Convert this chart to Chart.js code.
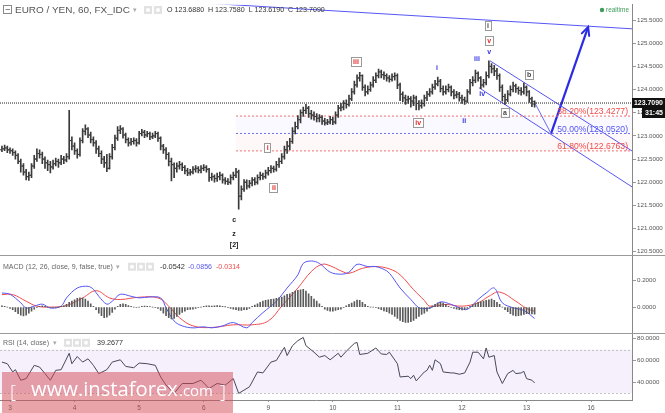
<!DOCTYPE html>
<html>
<head>
<meta charset="utf-8">
<script src="https://cdn.jsdelivr.net/npm/chart.js@4/dist/chart.umd.min.js"></script>
<style>
  html, body { margin: 0; padding: 0; background: #fff; }
  #wrap { position: relative; width: 665px; height: 413px; }
</style>
</head>
<body>
<div id="wrap"><canvas id="chart" width="665" height="413"></canvas></div>
<script>
// ---- data (hourly EUR/JPY bars, index 0 = start of day "3") ----
const firstBar = -3;
const dayTicks = [0, 24, 48, 72, 96, 120, 144, 168, 192, 216];
const dayLabels = ['3', '4', '5', '6', '9', '10', '11', '12', '13', '16'];
const priceTicks = [120.5, 121, 121.5, 122, 122.5, 123, 123.5, 124, 124.5, 125, 125.5];

const opens = [
  122.70,122.72,122.74,122.70,122.68,122.64,122.58,122.45,122.35,122.22,
  122.12,122.15,122.35,122.50,122.62,122.60,122.50,122.42,122.38,122.33,
  122.40,122.45,122.42,122.50,122.48,122.55,122.90,122.78,122.68,122.60,
  122.90,123.10,123.15,123.02,122.92,122.85,122.72,122.62,122.50,122.42,
  122.30,122.55,122.75,122.95,123.12,123.15,123.02,122.92,122.85,122.88,
  122.90,122.85,123.05,123.08,123.02,123.05,122.98,123.00,123.05,122.95,
  122.78,122.70,122.60,122.45,122.38,122.30,122.35,122.38,122.32,122.25,
  122.20,122.22,122.28,122.30,122.26,122.30,122.32,122.28,122.10,122.12,
  122.08,122.12,122.15,122.05,122.02,122.00,122.10,122.15,122.22,121.70,
  121.85,122.00,121.92,121.98,122.05,122.00,122.10,122.15,122.12,122.20,
  122.25,122.30,122.28,122.38,122.45,122.55,122.70,122.78,122.88,123.10,
  123.20,123.35,123.50,123.55,123.60,123.48,123.45,123.42,123.38,123.40,
  123.32,123.28,123.30,123.35,123.30,123.45,123.60,123.62,123.70,123.68,
  123.80,123.95,124.10,124.25,124.30,124.05,123.95,124.00,124.10,124.20,
  124.30,124.38,124.32,124.30,124.25,124.22,124.28,124.30,124.10,123.90,
  123.82,123.78,123.80,123.75,123.82,123.70,123.65,123.70,123.82,123.90,
  123.95,124.05,124.12,124.18,124.02,123.95,124.00,124.05,123.95,123.88,
  123.90,123.82,123.78,123.75,123.95,124.15,124.20,124.35,124.25,124.10,
  124.15,124.30,124.50,124.45,124.40,124.30,124.05,123.85,123.78,123.90,
  124.00,124.08,124.02,123.98,123.95,124.05,123.95,123.80,123.688
];
const highs = [
  122.78,122.80,122.78,122.74,122.72,122.68,122.62,122.50,122.40,122.28,
  122.22,122.40,122.58,122.72,122.70,122.65,122.55,122.48,122.45,122.48,
  122.52,122.50,122.58,122.56,122.62,123.55,122.98,122.85,122.72,122.96,
  123.16,123.24,123.18,123.08,122.98,122.90,122.78,122.68,122.56,122.60,
  122.62,122.82,123.02,123.20,123.22,123.18,123.06,122.96,122.95,122.96,
  122.94,123.10,123.14,123.12,123.10,123.08,123.06,123.10,123.08,122.98,
  122.82,122.75,122.64,122.52,122.42,122.42,122.45,122.42,122.36,122.30,
  122.28,122.34,122.36,122.34,122.36,122.38,122.36,122.30,122.20,122.16,
  122.20,122.22,122.18,122.10,122.08,122.16,122.22,122.30,122.26,121.92,
  122.06,122.05,122.04,122.10,122.10,122.16,122.22,122.20,122.26,122.32,
  122.36,122.35,122.45,122.52,122.62,122.78,122.88,122.95,123.18,123.30,
  123.44,123.56,123.62,123.68,123.64,123.55,123.52,123.48,123.46,123.44,
  123.38,123.36,123.42,123.40,123.52,123.66,123.70,123.76,123.78,123.88,
  124.02,124.18,124.32,124.37,124.32,124.10,124.08,124.16,124.28,124.36,
  124.44,124.42,124.38,124.34,124.30,124.34,124.36,124.34,124.14,123.95,
  123.88,123.86,123.85,123.88,123.86,123.76,123.78,123.88,123.96,124.02,
  124.12,124.20,124.27,124.22,124.08,124.08,124.12,124.08,124.00,123.96,
  123.94,123.88,123.84,124.00,124.22,124.28,124.42,124.38,124.28,124.22,
  124.38,124.62,124.56,124.52,124.46,124.34,124.10,123.90,123.98,124.08,
  124.16,124.12,124.06,124.04,124.14,124.08,123.98,123.84,123.758
];
const lows = [
  122.66,122.68,122.64,122.62,122.58,122.50,122.40,122.22,122.15,122.05,
  122.04,122.10,122.30,122.45,122.52,122.40,122.30,122.25,122.20,122.28,
  122.35,122.32,122.38,122.40,122.44,122.50,122.70,122.60,122.52,122.56,
  122.85,123.02,122.96,122.85,122.78,122.62,122.55,122.40,122.32,122.23,
  122.28,122.50,122.70,122.90,123.05,122.95,122.85,122.78,122.80,122.82,
  122.78,122.82,123.00,122.96,122.98,122.92,122.94,122.96,122.88,122.70,
  122.62,122.50,122.35,122.03,122.10,122.22,122.28,122.25,122.18,122.14,
  122.15,122.18,122.22,122.20,122.20,122.25,122.22,122.02,122.04,122.00,
  122.02,122.05,121.98,121.96,121.95,121.96,122.05,122.10,121.42,121.62,
  121.80,121.85,121.88,121.92,121.94,121.96,122.05,122.06,122.08,122.15,
  122.20,122.22,122.24,122.32,122.40,122.50,122.62,122.70,122.84,123.04,
  123.15,123.28,123.42,123.48,123.40,123.36,123.34,123.30,123.30,123.25,
  123.23,123.24,123.26,123.24,123.26,123.40,123.54,123.56,123.60,123.64,
  123.76,123.90,124.05,124.18,123.98,123.86,123.90,123.96,124.05,124.15,
  124.25,124.25,124.22,124.18,124.16,124.18,124.20,124.02,123.76,123.74,
  123.68,123.70,123.62,123.65,123.56,123.56,123.60,123.64,123.76,123.85,
  123.90,124.00,124.08,123.95,123.88,123.90,123.95,123.86,123.80,123.82,
  123.75,123.70,123.68,123.72,123.90,124.08,124.15,124.18,124.02,124.05,
  124.10,124.25,124.36,124.30,124.22,123.96,123.75,123.68,123.74,123.86,
  123.95,123.94,123.90,123.88,123.90,123.86,123.72,123.63,123.619
];
const closes = [
  122.72,122.74,122.70,122.68,122.64,122.58,122.45,122.35,122.22,122.12,
  122.15,122.35,122.50,122.62,122.60,122.50,122.42,122.38,122.33,122.40,
  122.45,122.42,122.50,122.48,122.55,122.90,122.78,122.68,122.60,122.90,
  123.10,123.15,123.02,122.92,122.85,122.72,122.62,122.50,122.42,122.30,
  122.55,122.75,122.95,123.12,123.15,123.02,122.92,122.85,122.88,122.90,
  122.85,123.05,123.08,123.02,123.05,122.98,123.00,123.05,122.95,122.78,
  122.70,122.60,122.45,122.38,122.30,122.35,122.38,122.32,122.25,122.20,
  122.22,122.28,122.30,122.26,122.30,122.32,122.28,122.10,122.12,122.08,
  122.12,122.15,122.05,122.02,122.00,122.10,122.15,122.22,121.70,121.85,
  122.00,121.92,121.98,122.05,122.00,122.10,122.15,122.12,122.20,122.25,
  122.30,122.28,122.38,122.45,122.55,122.70,122.78,122.88,123.10,123.20,
  123.35,123.50,123.55,123.60,123.48,123.45,123.42,123.38,123.40,123.32,
  123.28,123.30,123.35,123.30,123.45,123.60,123.62,123.70,123.68,123.80,
  123.95,124.10,124.25,124.30,124.05,123.95,124.00,124.10,124.20,124.30,
  124.38,124.32,124.30,124.25,124.22,124.28,124.30,124.10,123.90,123.82,
  123.78,123.80,123.75,123.82,123.70,123.65,123.70,123.82,123.90,123.95,
  124.05,124.12,124.18,124.02,123.95,124.00,124.05,123.95,123.88,123.90,
  123.82,123.78,123.75,123.95,124.15,124.20,124.35,124.25,124.10,124.15,
  124.30,124.50,124.45,124.40,124.30,124.05,123.85,123.78,123.90,124.00,
  124.08,124.02,123.98,123.95,124.05,123.95,123.80,123.74,123.709
];

// MACD (12, 26, close, 9)
const histogram = [
  0.010,0.005,0.000,-0.010,-0.020,-0.035,-0.050,-0.060,-0.067,-0.060,
  -0.045,-0.030,-0.015,-0.005,0.005,0.010,0.005,0.000,-0.005,-0.005,
  -0.005,0.000,0.005,0.010,0.020,0.035,0.045,0.055,0.065,0.070,
  0.068,0.060,0.045,0.025,0.005,-0.020,-0.045,-0.065,-0.079,-0.075,
  -0.060,-0.040,-0.015,0.005,0.020,0.025,0.020,0.012,0.005,0.000,
  -0.005,0.000,0.005,0.008,0.005,0.003,0.000,-0.005,-0.010,-0.025,
  -0.045,-0.065,-0.080,-0.089,-0.085,-0.070,-0.055,-0.040,-0.030,-0.020,
  -0.018,-0.015,-0.010,-0.005,0.000,0.005,0.010,0.010,0.008,0.010,
  0.012,0.010,0.005,0.002,-0.005,-0.010,-0.015,-0.020,-0.025,-0.025,
  -0.020,-0.020,-0.010,0.005,0.015,0.025,0.035,0.045,0.050,0.055,
  0.058,0.060,0.065,0.070,0.075,0.085,0.095,0.100,0.110,0.120,
  0.125,0.130,0.133,0.120,0.100,0.080,0.060,0.045,0.025,0.005,
  -0.015,-0.025,-0.030,-0.030,-0.025,-0.020,-0.015,-0.005,0.010,0.020,
  0.030,0.042,0.052,0.050,0.035,0.020,0.005,0.000,0.000,-0.005,
  -0.012,-0.020,-0.028,-0.035,-0.045,-0.055,-0.070,-0.085,-0.100,-0.110,
  -0.116,-0.115,-0.110,-0.100,-0.085,-0.070,-0.055,-0.045,-0.030,-0.010,
  0.010,0.020,0.030,0.035,0.030,0.020,0.005,-0.005,-0.010,-0.015,
  -0.020,-0.022,-0.018,-0.010,0.005,0.015,0.025,0.035,0.040,0.045,
  0.050,0.055,0.060,0.050,0.035,0.020,0.000,-0.020,-0.035,-0.050,
  -0.060,-0.067,-0.065,-0.060,-0.055,-0.050,-0.050,-0.052,-0.054
];
const macdIdx = [-3,0,4,6,9,12,15,19,21,25,29,31,33,36,38,41,45,48,52,56,58,61,64,68,72,75,79,83,88,90,
  94,99,103,107,109,112,115,119,123,126,129,133,136,140,142,145,149,152,155,157,160,164,167,170,174,177,180,183,187,191,195];
const macdLine = [0.106,0.096,0.032,-0.007,0.007,0.022,-0.007,0.007,0.069,0.143,0.156,0.133,0.081,0.022,0.044,
  0.096,0.081,0.069,0.076,0.069,-0.005,-0.104,-0.141,-0.156,-0.148,-0.156,-0.141,-0.116,-0.156,-0.116,
  -0.042,0.044,0.143,0.242,0.328,0.346,0.328,0.262,0.247,0.262,0.321,0.304,0.304,0.272,0.23,
  0.143,0.057,-0.005,-0.01,0.0,0.039,0.02,-0.005,-0.017,0.057,0.106,0.143,0.032,-0.005,-0.025,-0.0856];
const signalIdx = [-3,1,6,10,15,21,27,32,37,41,48,55,59,63,68,75,83,90,96,101,107,112,116,119,123,
  126,131,136,141,145,150,154,156,162,168,174,178,182,188,192,195];
const signalLine = [0.094,0.094,0.044,0.007,0.0,0.012,0.069,0.123,0.069,0.057,0.074,0.069,0.007,-0.079,-0.141,
  -0.153,-0.133,-0.133,-0.104,0.007,0.143,0.267,0.321,0.31,0.272,0.254,0.291,0.304,0.287,0.242,
  0.131,0.05,0.007,0.02,0.007,0.032,0.081,0.113,0.044,-0.01,-0.0314];

// RSI (14, close)
const rsiIdx = [-3,-1,1,2,4,6,9,11,13,15,17,19,22,23,25,27,29,31,33,36,38,41,43,46,48,51,54,56,58,61,
  64,68,71,74,77,80,83,85,87,89,92,94,97,99,102,103,105,107,109,110,113,115,117,119,122,123,125,128,129,130,
  133,136,138,140,141,144,145,148,149,150,151,154,155,156,157,158,160,161,164,165,167,169,171,172,174,176,177,178,180,181,
  183,185,187,188,190,191,192,194,195];
const rsiLine = [58.5,57,49.4,51.5,41.8,43.3,55.5,53.9,47.9,41.8,50.9,51.5,66.6,57,63.6,58.5,61.5,55.5,47.9,51.5,
  58.5,60.6,54.5,53.3,57.6,57,55.5,44.8,37.3,29.7,38.8,38.8,41.8,34.2,38.8,37.3,43.3,29.7,32.7,35.7,
  49.4,48.5,58.5,60,72.1,64.5,73.6,78.2,81.2,73.6,67.6,63,64.5,60.6,66.6,63,68.5,75.7,76.6,65.5,
  66.6,71.5,66,65.5,67.6,57,44.8,45.5,43.3,46.4,41.2,49.4,50.9,55.5,50.9,60.6,57,49.4,48.5,48.5,
  47.3,48.5,58.5,67.6,67.6,61.5,71.5,63,64.5,49.4,38.8,47.9,50.9,47.9,48.5,50,43.3,41.8,39.27];

// analysis drawn on the price pane (bar index, price)
const lastPrice = 123.709;
const fibStart = 84;
const fibLevels = [123.4277, 123.0520, 122.6763];
const fibTexts = ['38.20%(123.4277)', '50.00%(123.0520)', '61.80%(122.6763)'];
const trendLines = [[74, 125.86, 231.2, 125.31], [178.4, 124.62, 231.2, 122.675], [174.3, 124.04, 231.2, 121.90]];
const projection = [[195.2, 123.70], [201.1, 123.05]];
const arrowPath = [[201.1, 123.05], [214.9, 125.35]];
const waveLabels = [
  ['i', 177.7, 125.38, 'gbox'], ['v', 178.1, 125.06, 'rbox'], ['v', 178.1, 124.83, 'blue'],
  ['iii', 173.6, 124.67, 'blue'], ['iv', 175.5, 123.91, 'blue'], ['ii', 168.8, 123.34, 'blue'],
  ['a', 184, 123.51, 'gbox'], ['b', 193, 124.32, 'gbox'], ['i', 158.7, 124.47, 'blue'],
  ['iii', 128.6, 124.61, 'rbox'], ['iv', 151.7, 123.29, 'rbox'], ['i', 95.8, 122.74, 'rbox'],
  ['ii', 98.1, 121.89, 'rbox'], ['c', 83.3, 121.2, 'black'], ['z', 83.3, 120.9, 'black'], ['[2]', 83.3, 120.65, 'black']
];

const xMin = -3.72, xMax = 231.2;
const FONT = '"Liberation Sans", Arial, sans-serif';
Chart.defaults.font.family = FONT;

const barX = closes.map((_, k) => firstBar + k);
const BLUE = '#5656f5', RED = '#f24b4b', BAR = '#3a3a3a';

function seg(p1, p2, color, width, dash) {
  return {
    type: 'line', yAxisID: 'yPrice', data: [{x: p1[0], y: p1[1]}, {x: p2[0], y: p2[1]}],
    borderColor: color, borderWidth: width, borderDash: dash || [], pointRadius: 0, fill: false
  };
}

function fitText(ctx, text, x, y, w, weight, family) {
  const fam = family || FONT;
  ctx.font = (weight || '') + ' 10px ' + fam;
  const size = 10 * w / ctx.measureText(text).width;
  ctx.font = (weight || '') + ' ' + size.toFixed(2) + 'px ' + fam;
  ctx.fillText(text, x, y);
}

function icon(ctx, x, y) {
  ctx.fillStyle = '#e2e2e2';
  ctx.fillRect(x, y, 8, 8);
  ctx.fillStyle = '#fff';
  ctx.beginPath(); ctx.arc(x + 4, y + 4, 2, 0, Math.PI * 2); ctx.fill();
}

const overlay = {
  id: 'overlay',
  beforeDatasetsDraw(chart) {
    const {ctx, chartArea, scales: {x, yPrice, yRsi}} = chart;
    ctx.save();
    // RSI band 30-70
    const t = yRsi.getPixelForValue(70), b = yRsi.getPixelForValue(30);
    ctx.fillStyle = 'rgba(165,110,240,0.1)';
    ctx.fillRect(chartArea.left, t, chartArea.right - chartArea.left, b - t);
    ctx.strokeStyle = '#c4c4c4'; ctx.setLineDash([2, 2]); ctx.lineWidth = 1;
    [t, b].forEach(v => { ctx.beginPath(); ctx.moveTo(0, Math.round(v) + 0.5); ctx.lineTo(chartArea.right, Math.round(v) + 0.5); ctx.stroke(); });
    ctx.setLineDash([]);
    // fib zone shading
    const fx = x.getPixelForValue(fibStart);
    const f0 = yPrice.getPixelForValue(fibLevels[0]), f1 = yPrice.getPixelForValue(fibLevels[1]), f2 = yPrice.getPixelForValue(fibLevels[2]);
    ctx.fillStyle = 'rgba(90,90,255,0.035)';
    ctx.fillRect(fx, f0, chartArea.right - fx, f1 - f0);
    ctx.fillStyle = 'rgba(255,60,60,0.035)';
    ctx.fillRect(fx, f1, chartArea.right - fx, f2 - f1);
    ctx.restore();
  },
  afterDatasetsDraw(chart) {
    const {ctx, scales: {x, yPrice}} = chart;
    ctx.save();
    // open / close ticks of OHLC bars
    ctx.fillStyle = BAR;
    barX.forEach((v, k) => {
      const px = x.getPixelForValue(v);
      ctx.fillRect(px - 2, yPrice.getPixelForValue(opens[k]) - 0.5, 1.5, 1);
      ctx.fillRect(px + 0.5, yPrice.getPixelForValue(closes[k]) - 0.5, 1.5, 1);
    });
    // arrow head
    const ax0 = x.getPixelForValue(arrowPath[0][0]), ay0 = yPrice.getPixelForValue(arrowPath[0][1]);
    const ax1 = x.getPixelForValue(arrowPath[1][0]), ay1 = yPrice.getPixelForValue(arrowPath[1][1]);
    const ang = Math.atan2(ay1 - ay0, ax1 - ax0);
    ctx.strokeStyle = '#2b2be6'; ctx.lineWidth = 2; ctx.lineCap = 'round';
    ctx.beginPath();
    ctx.moveTo(ax1 - 9 * Math.cos(ang - 0.45), ay1 - 9 * Math.sin(ang - 0.45));
    ctx.lineTo(ax1, ay1);
    ctx.lineTo(ax1 - 9 * Math.cos(ang + 0.45), ay1 - 9 * Math.sin(ang + 0.45));
    ctx.stroke();
    // fib texts
    ctx.textAlign = 'right'; ctx.textBaseline = 'middle';
    ctx.font = '8.6px ' + FONT;
    const fibColors = [RED, BLUE, RED];
    fibLevels.forEach((lv, k) => {
      ctx.fillStyle = fibColors[k];
      ctx.fillText(fibTexts[k], 628, yPrice.getPixelForValue(lv) - 4);
    });
    // wave labels
    ctx.textAlign = 'center';
    waveLabels.forEach(([txt, i, p, kind]) => {
      const px = x.getPixelForValue(i), py = yPrice.getPixelForValue(p);
      ctx.font = 'bold 7px ' + FONT;
      const w = ctx.measureText(txt).width;
      if (kind === 'gbox' || kind === 'rbox') {
        ctx.fillStyle = '#fff';
        ctx.fillRect(px - w / 2 - 2.5, py - 4.5, w + 5, 9);
        ctx.strokeStyle = '#9a9a9a'; ctx.lineWidth = 1;
        ctx.strokeRect(Math.round(px - w / 2 - 2.5) + 0.5, Math.round(py - 4.5) + 0.5, Math.round(w + 4), 9);
      }
      ctx.fillStyle = kind === 'rbox' ? '#e02828' : kind === 'blue' ? '#3434e0' : kind === 'gbox' ? '#444' : '#222';
      ctx.fillText(txt, px, py + 0.5);
    });
    ctx.restore();
  },
  afterDraw(chart) {
    const {ctx, scales: {yPrice, yMacd, yRsi}} = chart;
    ctx.save();
    // pane separators
    ctx.strokeStyle = '#9a9a9a'; ctx.lineWidth = 1;
    [yMacd.top, yRsi.top].forEach(v => {
      ctx.beginPath(); ctx.moveTo(0, Math.round(v) + 0.5); ctx.lineTo(665, Math.round(v) + 0.5); ctx.stroke();
    });
    // headers
    ctx.textBaseline = 'middle'; ctx.textAlign = 'left';
    ctx.strokeStyle = '#8a8a8a';
    ctx.strokeRect(3.5, 5.5, 8, 8);
    ctx.beginPath(); ctx.moveTo(5.5, 9.5); ctx.lineTo(10, 9.5); ctx.stroke();
    ctx.fillStyle = '#555';
    fitText(ctx, 'EURO / YEN, 60, FX_IDC', 15, 10, 115);
    ctx.fillStyle = '#aaa'; ctx.font = '7px ' + FONT; ctx.fillText('\u25BE', 133, 10);
    icon(ctx, 144, 6); icon(ctx, 154, 6);
    ctx.fillStyle = '#333';
    fitText(ctx, 'O 123.6880  H 123.7580  L 123.6190  C 123.7090', 167, 10, 158);
    ctx.fillStyle = '#3f9d5c';
    ctx.beginPath(); ctx.arc(602, 10, 2.2, 0, Math.PI * 2); ctx.fill();
    fitText(ctx, 'realtime', 606, 10, 23);

    const mh = yMacd.top + 12;
    ctx.fillStyle = '#666';
    fitText(ctx, 'MACD (12, 26, close, 9, false, true)', 3, mh, 110);
    ctx.fillStyle = '#aaa'; ctx.font = '7px ' + FONT; ctx.fillText('\u25BE', 116, mh);
    icon(ctx, 128, mh - 4); icon(ctx, 137, mh - 4); icon(ctx, 146, mh - 4);
    ctx.fillStyle = '#333'; fitText(ctx, '-0.0542', 160, mh, 25);
    ctx.fillStyle = BLUE; fitText(ctx, '-0.0856', 188, mh, 24);
    ctx.fillStyle = RED; fitText(ctx, '-0.0314', 216, mh, 24);

    const rh = yRsi.top + 10;
    ctx.fillStyle = '#666';
    fitText(ctx, 'RSI (14, close)', 3, rh, 46);
    ctx.fillStyle = '#aaa'; ctx.font = '7px ' + FONT; ctx.fillText('\u25BE', 53, rh);
    icon(ctx, 64, rh - 4); icon(ctx, 73, rh - 4); icon(ctx, 82, rh - 4);
    ctx.fillStyle = '#333'; fitText(ctx, '39.2677', 97, rh, 26);

    // last price boxes
    const py = yPrice.getPixelForValue(lastPrice);
    ctx.fillStyle = '#111';
    ctx.fillRect(632, Math.round(py) - 5, 33, 10);
    ctx.fillRect(642, Math.round(py) + 5, 23, 10);
    ctx.fillStyle = '#fff';
    fitText(ctx, lastPrice.toFixed(4), 634, Math.round(py), 29, 'bold');
    fitText(ctx, '31:45', 645, Math.round(py) + 10, 18, 'bold');

    // watermark
    ctx.fillStyle = 'rgba(212,74,86,0.5)';
    ctx.fillRect(2, 372, 231, 41);
    ctx.fillStyle = '#fff';
    ctx.textBaseline = 'alphabetic';
    fitText(ctx, '[', 10, 398, 6, '300', '"Open Sans", sans-serif');
    fitText(ctx, 'www.instaforex', 31, 396, 147, '', '"Open Sans", sans-serif');
    fitText(ctx, '.com', 179, 396, 34, '', '"Open Sans", sans-serif');
    fitText(ctx, ']', 220, 398, 6, '300', '"Open Sans", sans-serif');
    ctx.restore();
  }
};

const yBase = {
  type: 'linear', position: 'right', stack: 'panes',
  grid: {drawOnChartArea: false, tickLength: 4, color: '#999'},
  border: {color: '#888'},
  ticks: {font: {size: 6.2}, color: '#555', padding: 1, callback: v => v.toFixed(4)},
  afterFit: s => { s.width = 33; }
};

new Chart(document.getElementById('chart'), {
  type: 'bar',
  data: {
    datasets: [
      {type: 'bar', yAxisID: 'yPrice', data: barX.map((v, k) => ({x: v, y: [lows[k], highs[k]]})),
        backgroundColor: BAR, barThickness: 1, grouped: false},
      {type: 'bar', yAxisID: 'yMacd', data: barX.map((v, k) => ({x: v, y: histogram[k]})),
        backgroundColor: '#5a5a5a', barThickness: 1, grouped: false},
      {type: 'line', yAxisID: 'yMacd', data: macdIdx.map((v, k) => ({x: v, y: macdLine[k]})),
        borderColor: BLUE, borderWidth: 1, pointRadius: 0, tension: 0.35},
      {type: 'line', yAxisID: 'yMacd', data: signalIdx.map((v, k) => ({x: v, y: signalLine[k]})),
        borderColor: RED, borderWidth: 1, pointRadius: 0, tension: 0.4},
      {type: 'line', yAxisID: 'yRsi', data: rsiIdx.map((v, k) => ({x: v, y: rsiLine[k]})),
        borderColor: '#474757', borderWidth: 1, pointRadius: 0, tension: 0},
      seg([xMin, lastPrice], [xMax, lastPrice], '#222', 1, [1, 1]),
      seg([fibStart, fibLevels[0]], [xMax, fibLevels[0]], '#f07070', 1, [2, 2]),
      seg([fibStart, fibLevels[1]], [xMax, fibLevels[1]], '#7070f0', 1, [2, 2]),
      seg([fibStart, fibLevels[2]], [xMax, fibLevels[2]], '#f07070', 1, [2, 2]),
      ...trendLines.map(t => seg([t[0], t[1]], [t[2], t[3]], BLUE, 1)),
      seg(projection[0], projection[1], '#6a6af0', 1),
      seg(arrowPath[0], arrowPath[1], '#2b2be6', 2.2)
    ]
  },
  options: {
    responsive: false,
    animation: false,
    devicePixelRatio: 1,
    events: [],
    layout: {padding: 0},
    plugins: {legend: {display: false}, tooltip: {enabled: false}},
    scales: {
      x: {
        type: 'linear', min: xMin, max: xMax, offset: false,
        grid: {drawOnChartArea: false, tickLength: 2, color: '#999', offset: false},
        border: {color: '#888'},
        afterBuildTicks: s => { s.ticks = dayTicks.map(v => ({value: v})); },
        ticks: {autoSkip: false, maxRotation: 0, font: {size: 6.5}, color: '#555', padding: 2,
          callback: v => dayLabels[dayTicks.indexOf(v)]},
        afterFit: s => { s.height = 13; }
      },
      yPrice: Object.assign({}, yBase, {stackWeight: 253, min: 120.436, max: 125.83,
        afterBuildTicks: s => { s.ticks = priceTicks.map(v => ({value: v})); }}),
      yMacd: Object.assign({}, yBase, {stackWeight: 79, min: -0.193, max: 0.393,
        afterBuildTicks: s => { s.ticks = [{value: 0}, {value: 0.2}]; }}),
      yRsi: Object.assign({}, yBase, {stackWeight: 68, min: 23.6, max: 85.45,
        afterBuildTicks: s => { s.ticks = [{value: 40}, {value: 60}, {value: 80}]; }})
    }
  },
  plugins: [overlay]
});
</script>
</body>
</html>
